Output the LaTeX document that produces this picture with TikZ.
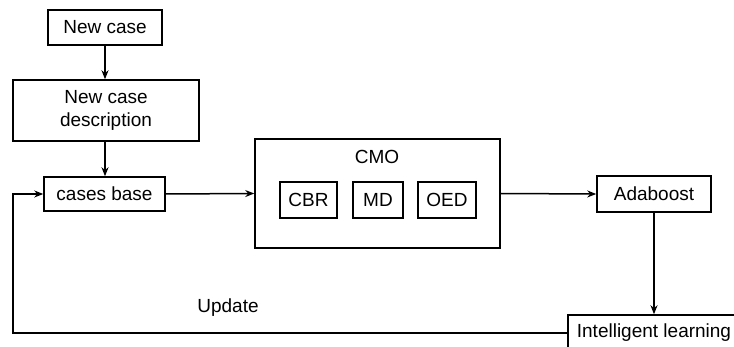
\documentclass[tikz,border=0pt]{standalone}
\usepackage{fontspec}
\setmainfont{Liberation Sans}
\usetikzlibrary{arrows.meta,positioning}
\begin{document}
\begin{tikzpicture}[x=1pt,y=-1pt,
  every node/.style={font=\fontsize{19}{22.5}\selectfont},
  box/.style={draw,line width=1.5pt,inner sep=0pt,align=center},
  conn/.style={line width=1.5pt},
  arr/.style={conn,-{Stealth[length=9pt,width=7pt]}}]
\clip (0,0) rectangle (734,347);
\useasboundingbox (0,0) rectangle (734,347);
\fill[white] (0,0) rectangle (734,347);
\node[box,minimum width=114pt,minimum height=35pt] (newcase) at (105,27.5) {New case};
\node[box,minimum width=186pt,minimum height=61pt] (desc) at (106,110.5) {New case\\description};
\node[box,minimum width=121pt,minimum height=34pt] (cases) at (104.5,194) {cases base};
\node[box,minimum width=245pt,minimum height=109pt] (cmo) at (377.5,193.5) {};
\node (cmolabel) at (377,157) {CMO};
\node[box,minimum width=57pt,minimum height=36pt] (cbr) at (308.5,200) {CBR};
\node[box,minimum width=50pt,minimum height=36pt] (md) at (378,200) {MD};
\node[box,minimum width=58pt,minimum height=36pt] (oed) at (447,200) {OED};
\node[box,minimum width=114pt,minimum height=36pt] (ada) at (654,194) {Adaboost};
\node[box,minimum width=172pt,minimum height=36pt] (il) at (654,333) {Intelligent learning};
\node (update) at (228,308) {Update};
\coordinate (lb) at (13,333);
\coordinate (lt) at (13,194);
\draw[arr] (newcase.south) -- (newcase.south |- desc.north);
\draw[arr] (desc.south -| newcase.south) -- (cases.north -| newcase.south);
\draw[arr] (cases.east) -- (cmo.west);
\draw[arr] (cmo.east) -- (ada.west);
\draw[arr] (ada.south) -- (il.north);
\draw[arr] (il.west) -- (lb) -- (lt) -- (cases.west);
\end{tikzpicture}
\end{document}
